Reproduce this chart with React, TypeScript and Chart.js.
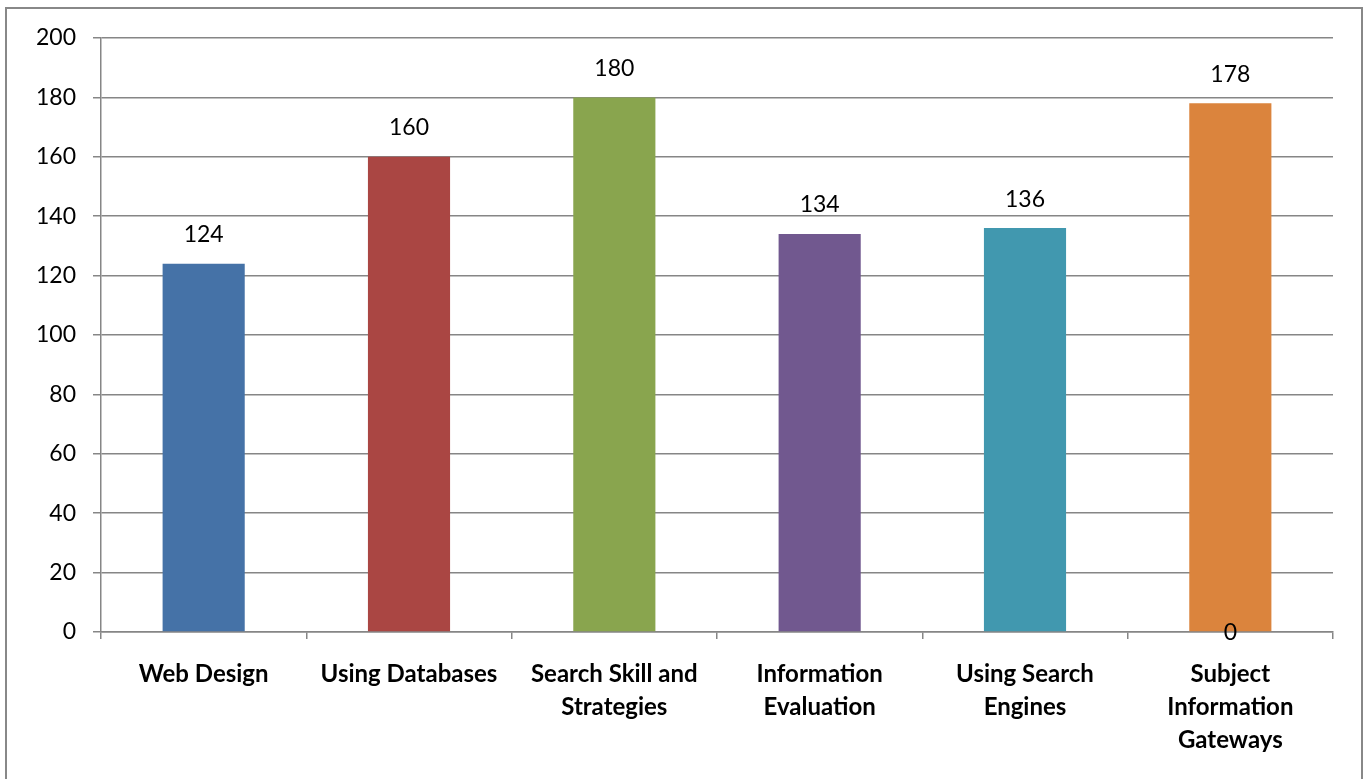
import React, { useEffect, useRef } from "react";
import { Chart, registerables } from "chart.js";

Chart.register(...registerables);

const categories: string[][] = [
  ["Web Design"],
  ["Using Databases"],
  ["Search Skill and", "Strategies"],
  ["Information", "Evaluation"],
  ["Using Search", "Engines"],
  ["Subject", "Information", "Gateways"],
];
const values: number[] = [124, 160, 180, 134, 136, 178];
const barColors: string[] = ["#4572A7", "#AA4643", "#89A54E", "#71588F", "#4198AF", "#DB843D"];
// stray data label shown at the base of the last bar in the original
const strayLabelIndex: number[] = [5];
const strayLabelValue: number[] = [0];

const Y_MIN = 0;
const Y_MAX = 200;
const Y_STEP = 20;

const FONT = "Lato, 'Open Sans', sans-serif";
const GRID = "#868686";

const labelPlugin = {
  id: "valueLabels",
  afterDatasetsDraw(chart: any) {
    const ctx = chart.ctx;
    const meta = chart.getDatasetMeta(0);
    const yScale = chart.scales.y;
    ctx.save();
    ctx.fillStyle = "#000";
    ctx.font = `23px ${FONT}`;
    ctx.textAlign = "center";
    ctx.textBaseline = "middle";
    meta.data.forEach((bar: any, i: number) => {
      ctx.fillText(String(values[i]), bar.x, bar.y - 29);
    });
    strayLabelIndex.forEach((idx, k) => {
      const bar = meta.data[idx];
      ctx.fillText(String(strayLabelValue[k]), bar.x, yScale.getPixelForValue(strayLabelValue[k]) + 1);
    });
    ctx.restore();
  },
};

export default function App() {
  const canvasRef = useRef<HTMLCanvasElement>(null);

  useEffect(() => {
    if (!canvasRef.current) return;
    const chart = new Chart(canvasRef.current, {
      type: "bar",
      data: {
        labels: categories,
        datasets: [
          {
            data: values,
            backgroundColor: barColors,
            borderWidth: 0,
            barPercentage: 0.4,
            categoryPercentage: 1,
          },
        ],
      },
      options: {
        animation: false,
        responsive: false,
        maintainAspectRatio: false,
        layout: { padding: { left: 0, right: 36, top: 38, bottom: 0 } },
        plugins: {
          legend: { display: false },
          tooltip: { enabled: false },
          title: { display: false },
        },
        scales: {
          x: {
            offset: true,
            grid: {
              offset: true,
              drawOnChartArea: false,
              drawTicks: true,
              tickLength: 7,
              color: GRID,
              lineWidth: 1.5,
            },
            border: { color: GRID, width: 1.5 },
            ticks: {
              color: "#000",
              font: { family: FONT, size: 24, weight: "bold", lineHeight: 1.375 },
              padding: 19,
              maxRotation: 0,
              autoSkip: false,
            },
            afterFit(scale: any) {
              scale.height = 147;
            },
          },
          y: {
            min: Y_MIN,
            max: Y_MAX,
            grid: {
              color: GRID,
              lineWidth: 1.5,
              tickLength: 8,
            },
            border: { color: GRID, width: 1.5 },
            ticks: {
              stepSize: Y_STEP,
              color: "#000",
              font: { family: FONT, size: 23 },
              padding: 17,
            },
            afterFit(scale: any) {
              scale.width = 101;
            },
          },
        },
      },
      plugins: [labelPlugin],
    });
    return () => chart.destroy();
  }, []);

  return (
    <div
      style={{
        position: "fixed",
        left: 0,
        top: 0,
        width: 1369,
        height: 779,
        overflow: "hidden",
        background: "#fff",
      }}
    >
      <div
        style={{
          position: "absolute",
          left: 5,
          top: 7,
          width: 1358,
          height: 840,
          border: "2.5px solid #888",
          boxSizing: "border-box",
        }}
      />
      <canvas
        ref={canvasRef}
        width={1369}
        height={779}
        style={{ position: "absolute", left: 0, top: 0, width: 1369, height: 779 }}
      />
    </div>
  );
}
